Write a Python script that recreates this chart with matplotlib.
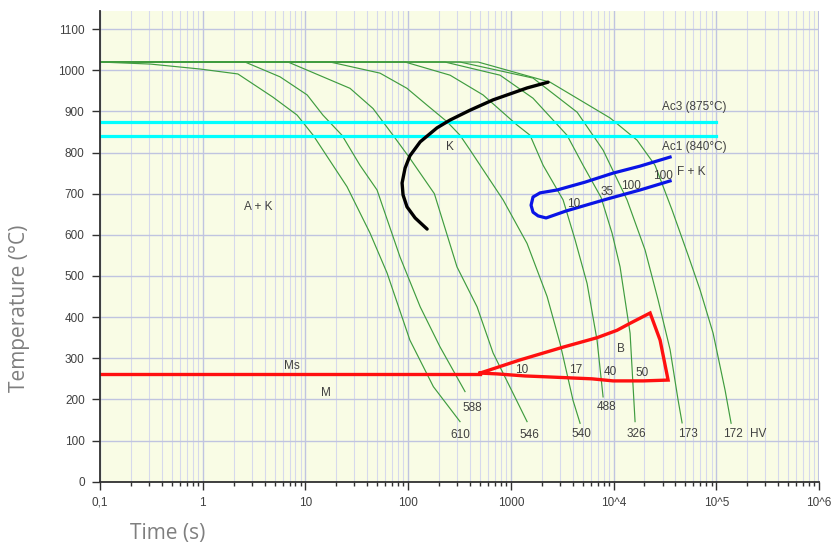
import matplotlib
matplotlib.use('Agg')
import matplotlib.pyplot as plt
from matplotlib.ticker import LogLocator, FixedLocator, FixedFormatter, NullFormatter

# cooling curves, time in s and temperature in degC, named by final hardness HV
curve_610_t = [0.1, 0.31, 0.94, 2.2, 4.8, 8.3, 11.9, 25.4, 42.6, 62.4, 104, 176, 320]
curve_610_T = [1020, 1015, 1003, 991, 935, 891, 842, 717, 604, 507, 344, 231, 146]
curve_588_t = [0.1, 2.58, 5.66, 10.4, 14.8, 22.7, 34.0, 49.8, 83.4, 131, 204, 358]
curve_588_T = [1020, 1020, 984, 940, 891, 842, 769, 709, 546, 425, 328, 219]
curve_546_t = [0.1, 6.77, 27.2, 45.5, 71.3, 104, 180, 299, 469, 671, 1050, 1438]
curve_546_T = [1020, 1020, 956, 907, 842, 786, 700, 522, 425, 313, 215, 146]
curve_540_t = [0.1, 17.4, 53.2, 97.5, 153, 239, 320, 401, 840, 1438, 2254, 3015, 4036, 4720]
curve_540_T = [1020, 1020, 993, 956, 915, 875, 842, 806, 685, 579, 450, 336, 197, 142]
curve_488_t = [0.1, 93.3, 256, 536, 1148, 1538, 2061, 3224, 4217, 5520, 6905, 7905]
curve_488_T = [1020, 1020, 988, 940, 867, 842, 769, 685, 588, 482, 344, 206]
curve_326_t = [0.1, 228, 785, 1644, 3524, 5050, 7550, 9670, 11570, 14480, 16190]
curve_326_T = [1020, 1020, 988, 932, 842, 769, 691, 604, 522, 361, 146]
curve_173_t = [0.1, 320, 1644, 4418, 7905, 13520, 20270, 27120, 35500, 42440, 46460]
curve_173_T = [1020, 1020, 981, 898, 806, 685, 563, 442, 321, 199, 143]
curve_172_t = [0.1, 480, 2410, 9250, 16940, 25350, 37150, 53080, 69560, 93100, 121900, 139400]
curve_172_T = [1020, 1020, 971, 884, 830, 769, 660, 551, 466, 361, 222, 142]

curves = [(curve_610_t, curve_610_T), (curve_588_t, curve_588_T), (curve_546_t, curve_546_T),
          (curve_540_t, curve_540_T), (curve_488_t, curve_488_T), (curve_326_t, curve_326_T),
          (curve_173_t, curve_173_T), (curve_172_t, curve_172_T)]
hardness = ['610', '588', '546', '540', '488', '326', '173', '172']
hardness_t = [320, 419, 1503, 4900, 8590, 16830, 52360, 146600]
hardness_T = [113, 179, 113, 115, 182, 115, 115, 115]

# carbide start line (K)
k_t = [2303, 1438, 671, 401, 256, 191, 131, 104, 93.3, 87.3, 89.2, 97.5, 117, 153]
k_T = [971, 957, 928, 903, 879, 860, 826, 792, 762, 726, 697, 668, 641, 614]

# ferrite + carbide region (F + K)
fk_t = [35500, 18120, 9890, 5270, 2820, 1925, 1644, 1573, 1644, 1842, 2203, 3450, 5900, 8650, 18120, 35500]
fk_T = [789, 767, 750, 728, 709, 702, 692, 672, 655, 646, 641, 658, 675, 687, 709, 731]
fk_labels = ['10', '35', '100', '100']
fk_label_t = [4060, 8570, 14790, 30000]
fk_label_T = [676, 705, 719, 743]

# bainite region (B) and Ms
ms_T = 262
ms_t = [0.1, 501]
b_t = [501, 1230, 3224, 6905, 10810, 14480, 22680, 28380, 33950, 19380, 9890, 6180, 2155, 1374, 735, 501]
b_T = [264, 296, 327, 350, 368, 385, 410, 344, 247, 245, 245, 250, 255, 257, 262, 264]
b_labels = ['10', '17', '40', '50']
b_label_t = [1276, 4290, 9380, 19060]
b_label_T = [271, 271, 266, 264]

ac3, ac1 = 875, 840
xticks = [0.1, 1, 10, 100, 1000, 1e4, 1e5, 1e6]
xticklabels = ['0,1', '1', '10', '100', '1000', '10^4', '10^5', '10^6']

fig = plt.figure(figsize=(8.32, 5.46), dpi=100)
ax = fig.add_axes([100 / 832, 1 - 481.7 / 546, 719 / 832, 470.7 / 546])
ax.set_facecolor('#f9fce5')
ax.set_xscale('log')
ax.set_xlim(0.1, 1e6)
ax.set_ylim(0, 1144)

ax.xaxis.set_major_locator(FixedLocator(xticks))
ax.xaxis.set_major_formatter(FixedFormatter(xticklabels))
ax.xaxis.set_minor_locator(LogLocator(base=10, subs=range(2, 10), numticks=20))
ax.xaxis.set_minor_formatter(NullFormatter())
ax.set_yticks(range(0, 1101, 100))

ax.set_axisbelow(True)
ax.grid(which='major', color='#c0c4e0', lw=1.0)
ax.grid(which='minor', axis='x', color='#d6d9ec', lw=0.8)
ax.axvline(1e6, color='#c0c4e0', lw=1.5)

for s in ['top', 'right']:
    ax.spines[s].set_visible(False)
for s in ['left', 'bottom']:
    ax.spines[s].set_color('#303030')
    ax.spines[s].set_linewidth(1.3)

lab_font = ['Liberation Sans', 'DejaVu Sans']
ax.tick_params(which='major', length=6, width=1, color='#303030', labelcolor='#404040',
               labelsize=8.5, pad=5)
ax.tick_params(which='minor', length=3, width=1, color='#303030')
for lab in ax.get_xticklabels() + ax.get_yticklabels():
    lab.set_family(lab_font)

# cooling curves
for (t, T), hv, ht, hT in zip(curves, hardness, hardness_t, hardness_T):
    ax.plot(t, T, color='#3f9c3f', lw=0.85)
    ax.text(ht, hT, hv, ha='center', va='center', fontsize=8.5, color='#404040', family=lab_font)
ax.text(257000, 115, 'HV', ha='center', va='center', fontsize=8.5, color='#404040', family=lab_font)

# Ac lines
ax.plot([0.1, 1e5], [ac3, ac3], color='#00ffff', lw=2.3)
ax.plot([0.1, 1e5], [ac1, ac1], color='#00ffff', lw=2.3)
ax.text(29400, 911, 'Ac3 (875°C)', ha='left', va='center', fontsize=8.5, color='#404040', family=lab_font)
ax.text(29400, 813, 'Ac1 (840°C)', ha='left', va='center', fontsize=8.5, color='#404040', family=lab_font)

# K line
ax.plot(k_t, k_T, color='black', lw=2.4, solid_capstyle='round')
ax.text(256, 814, 'K', ha='center', va='center', fontsize=8.5, color='#404040', family=lab_font)
ax.text(3.48, 668, 'A + K', ha='center', va='center', fontsize=8.5, color='#404040', family=lab_font)

# F + K
ax.plot(fk_t, fk_T, color='#0a14e6', lw=2.3, solid_joinstyle='round')
for lab, t, T in zip(fk_labels, fk_label_t, fk_label_T):
    ax.text(t, T, lab, ha='center', va='center', fontsize=8.5, color='#404040', family=lab_font)
ax.text(41100, 753, 'F + K', ha='left', va='center', fontsize=8.5, color='#404040', family=lab_font)

# Ms and B
ax.plot(ms_t, [ms_T, ms_T], color='#ff1010', lw=2.4)
ax.plot(b_t, b_T, color='#ff1010', lw=2.4, solid_joinstyle='miter')
for lab, t, T in zip(b_labels, b_label_t, b_label_T):
    ax.text(t, T, lab, ha='center', va='center', fontsize=8.5, color='#404040', family=lab_font)
ax.text(11750, 322, 'B', ha='center', va='center', fontsize=8.5, color='#404040', family=lab_font)
ax.text(7.36, 280, 'Ms', ha='center', va='center', fontsize=8.5, color='#404040', family=lab_font)
ax.text(15.9, 216, 'M', ha='center', va='center', fontsize=8.5, color='#404040', family=lab_font)

# axis titles
title_font = ['Open Sans', 'DejaVu Sans']
fig.text(20 / 832, 1 - 308 / 546, 'Temperature (°C)', rotation=90, ha='center', va='center',
         fontsize=15, color='#7f7f7f', family=title_font)
fig.text(168 / 832, 1 - 534 / 546, 'Time (s)', ha='center', va='center',
         fontsize=15, color='#7f7f7f', family=title_font)

fig.savefig('out.png', dpi=100)
